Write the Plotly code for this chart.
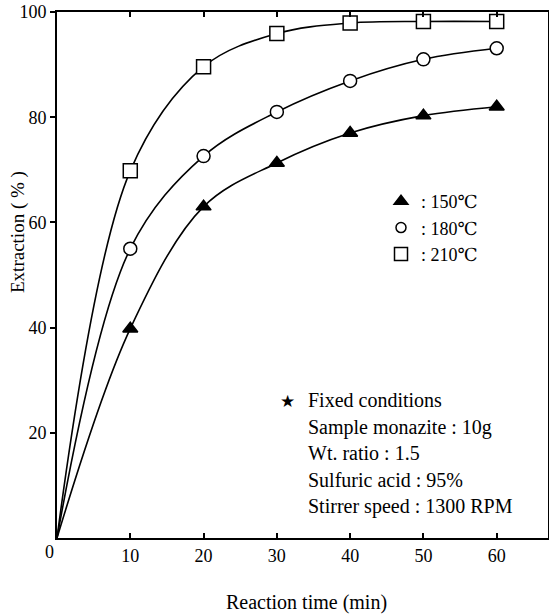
import plotly.graph_objects as go

time_min = [0, 10, 20, 30, 40, 50, 60]
ext_150 = [0, 39.8, 63.0, 71.3, 77.0, 80.3, 82.0]
ext_180 = [0, 55.0, 72.6, 81.0, 86.9, 91.0, 93.1]
ext_210 = [0, 69.8, 89.6, 95.9, 97.9, 98.2, 98.2]

series_names = [": 150\u2103", ": 180\u2103", ": 210\u2103"]
x_ticks = [10, 20, 30, 40, 50, 60]
y_ticks = [20, 40, 60, 80, 100]
notes = ["Fixed conditions", "Sample monazite : 10g", "Wt. ratio : 1.5",
         "Sulfuric acid : 95%", "Stirrer speed : 1300 RPM"]

FONT = "Liberation Serif, DejaVu Serif, serif"

# pixel geometry of the plot area
PL, PR, PT, PB = 57, 548, 12, 538
PW, PH = PR - PL, PB - PT


def px(x):
    return (x - PL) / PW


def py(y):
    return (PB - y) / PH


fig = go.Figure()
styles = [
    dict(symbol="triangle-up", color="black", size=13),
    dict(symbol="circle", color="white", size=13),
    dict(symbol="square", color="white", size=14),
]
lines, marks, legs = [], [], []
for ys, name, st in zip([ext_150, ext_180, ext_210], series_names, styles):
    lines.append(go.Scatter(
        x=time_min, y=ys, mode="lines", showlegend=False,
        line=dict(color="black", width=1.6, shape="spline", smoothing=1.0)))
    marks.append(go.Scatter(
        x=time_min[1:], y=ys[1:], mode="markers", showlegend=False,
        marker=dict(symbol=st["symbol"], color=st["color"], size=st["size"],
                    line=dict(color="black", width=1.5)),
        cliponaxis=False))
    legs.append(go.Scatter(
        x=[None], y=[None], mode="markers", name=name,
        marker=dict(symbol=st["symbol"], color=st["color"],
                    size=st["size"] - (3 if st["symbol"] == "circle" else 1),
                    line=dict(color="black", width=1.5))))
for t in lines + marks + legs:
    fig.add_trace(t)

note_y = [400, 427, 453, 480, 506]
for txt, yy in zip(notes, note_y):
    fig.add_annotation(
        xref="paper", yref="paper", x=px(306), y=py(yy),
        xanchor="left", yanchor="middle", showarrow=False,
        text=txt, font=dict(family=FONT, size=20, color="black"))
fig.add_annotation(
    xref="paper", yref="paper", x=px(287), y=py(401),
    xanchor="center", yanchor="middle", showarrow=False,
    text="\u2605", font=dict(family="DejaVu Sans", size=17, color="black"))

# axis titles and origin label
fig.add_annotation(
    xref="paper", yref="paper", x=px(306), y=py(602),
    xanchor="center", yanchor="middle", showarrow=False,
    text="Reaction time (min)", font=dict(family=FONT, size=20, color="black"))
fig.add_annotation(
    xref="paper", yref="paper", x=px(18), y=py(232), textangle=-90,
    xanchor="center", yanchor="middle", showarrow=False,
    text="Extraction ( % )", font=dict(family=FONT, size=19, color="black"))
fig.add_annotation(
    xref="paper", yref="paper", x=px(49), y=py(552),
    xanchor="center", yanchor="middle", showarrow=False,
    text="0", font=dict(family=FONT, size=18, color="black"))

fig.update_layout(
    width=549, height=614,
    margin=dict(l=PL, r=549 - PR, t=PT, b=614 - PB, autoexpand=False),
    paper_bgcolor="white", plot_bgcolor="white",
    font=dict(family=FONT, size=18, color="black"),
    legend=dict(x=px(381), y=py(183), xanchor="left", yanchor="top",
                bgcolor="rgba(0,0,0,0)", font=dict(family=FONT, size=18),
                itemwidth=30),
    xaxis=dict(range=[0, 67], tickvals=x_ticks, ticktext=[str(v) for v in x_ticks],
               showgrid=False, zeroline=False, showline=True, linecolor="black",
               linewidth=2, mirror="ticks", ticks="inside", ticklen=5,
               tickcolor="black", tickwidth=1.5, automargin=False),
    yaxis=dict(range=[0, 100], tickvals=y_ticks, ticktext=[str(v) for v in y_ticks],
               showgrid=False, zeroline=False, showline=True, linecolor="black",
               linewidth=2, mirror="ticks", ticks="outside", ticklen=5,
               tickcolor="black", tickwidth=1.5, automargin=False),
)
fig.write_html("out.html",
               config={"displayModeBar": False},
               post_script="document.body.style.margin='0px';"
                           "document.body.style.padding='0px';")
